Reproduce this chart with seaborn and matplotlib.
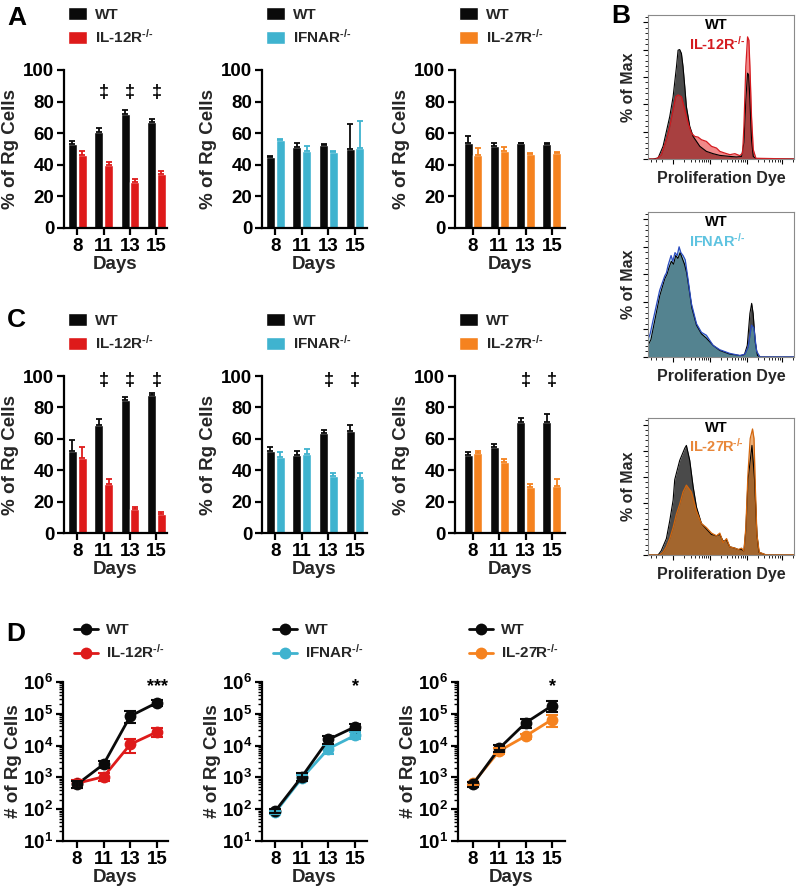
import numpy as np
import pandas as pd
import seaborn as sns
import matplotlib.pyplot as plt
from matplotlib.lines import Line2D
from matplotlib.ticker import LogLocator, NullFormatter, FixedLocator

# ---- data ----
days = ['8', '11', '13', '15']

# panel A: % of Rg cells (mean, sem)
a_il12_wt = [53, 61, 72, 67]
a_il12_wt_err = [2, 2, 2.5, 2]
a_il12_ko = [46.5, 40, 29, 34]
a_il12_ko_err = [2, 2, 2, 2]
a_ifnar_wt = [45, 51, 52.5, 50]
a_ifnar_wt_err = [0.5, 3, 0.5, 16]
a_ifnar_ko = [56, 49, 48, 50.5]
a_ifnar_ko_err = [0.5, 3, 0.5, 17]
a_il27_wt = [54, 52, 53.5, 53]
a_il27_wt_err = [4, 2, 0.3, 0.5]
a_il27_ko = [46, 48.5, 47, 47.5]
a_il27_ko_err = [4.5, 2.5, 0.3, 0.5]

# panel C
c_il12_wt = [52, 69, 85, 88]
c_il12_wt_err = [7, 3.5, 1.5, 1]
c_il12_ko = [48, 31, 15, 12]
c_il12_ko_err = [7, 3.5, 1.8, 1.2]
c_ifnar_wt = [52, 50, 64, 65]
c_ifnar_wt_err = [3, 2.5, 1.5, 3.5]
c_ifnar_ko = [48.5, 50.5, 36.5, 35]
c_ifnar_ko_err = [3, 3, 1.5, 3.5]
c_il27_wt = [50, 55, 71, 70.5]
c_il27_wt_err = [1.3, 1.8, 2, 5]
c_il27_ko = [51, 45.5, 29.5, 30]
c_il27_ko_err = [1.2, 1.7, 2, 4.5]

# panel D: # of Rg cells
d_il12_wt = [600, 2600, 85000, 225000]
d_il12_wt_err = [150, 600, 35000, 50000]
d_il12_ko = [650, 1050, 11000, 27000]
d_il12_ko_err = [200, 300, 5000, 8000]
d_ifnar_wt = [88, 1050, 15600, 39000]
d_ifnar_wt_err = [10, 300, 4000, 8000]
d_ifnar_ko = [80, 950, 8000, 21000]
d_ifnar_ko_err = [10, 200, 2500, 5000]
d_il27_wt = [600, 8200, 52000, 180000]
d_il27_wt_err = [100, 2000, 15000, 70000]
d_il27_ko = [650, 6800, 20000, 66000]
d_il27_ko_err = [80, 1500, 4000, 28000]

# panel B: histogram outlines (dye position %, % of max)
b1_wt_x = [0, 3.4, 6.9, 10.3, 14.9, 17.2, 19.5, 20.6, 21.7, 22.9, 24.0, 25.2, 26.3, 28.6, 30.9,
           35.5, 40.0, 44.6, 49.2, 56.1, 60.6, 64.1, 65.7, 67.0, 68.2, 68.9, 69.8, 70.9, 72.1, 74.4, 100]
b1_wt_y = [0, 0, 0.7, 8.8, 29.5, 43.3, 64.1, 75.6, 76.0, 73.3, 64.1, 50.2, 36.4, 22.6, 15.7,
           8.8, 5.3, 3.7, 2.5, 1.8, 1.4, 1.8, 11.3, 41.2, 59.6, 58.5, 41.2, 13.4, 1.8, 0, 0]
b1_ko_x = [0, 5.7, 9.2, 12.6, 14.9, 17.2, 19.0, 20.6, 22.9, 25.2, 27.5, 29.7, 32.0, 34.3, 36.6, 40.0,
           43.5, 46.9, 49.2, 52.6, 56.1, 59.5, 62.9, 64.8, 65.7, 67.0, 68.2, 69.1, 69.8, 70.9, 72.1, 73.9, 100]
b1_ko_y = [0, 0, 3.0, 13.4, 22.6, 34.1, 43.3, 44.5, 43.3, 34.1, 24.9, 18.0, 15.7, 15.2, 13.4, 12.2,
           8.8, 7.6, 5.3, 4.1, 3.0, 3.7, 2.3, 4.1, 22.6, 64.1, 84.8, 82.5, 64.1, 29.5, 6.5, 0.5, 0]

b2_wt_x = [0, 2, 4, 8, 11.5, 13, 14.5, 16, 17.5, 19, 20.5, 22, 23.5, 25, 26.5, 28, 30, 33.2, 36.6,
           40, 44.6, 49.2, 56, 63, 66, 68, 69.8, 71, 72, 73.5, 75, 77, 100]
b2_wt_y = [8, 12, 22, 42, 54, 57, 62, 66, 64, 70, 68, 72, 68, 64, 58, 48, 34, 22, 16,
           13, 8, 4.5, 2, 1, 1.5, 8, 30, 37, 30, 10, 1, 0, 0]
b2_ko_x = [0, 1.5, 3.4, 8, 11.5, 12.6, 13.7, 15.8, 17, 18.5, 20, 21.3, 22.5, 24, 25.5, 27.5, 29.7,
           33.2, 36.6, 40, 44.6, 49.2, 56, 63, 66.4, 68.6, 70.9, 72.5, 74.4, 76.7, 100]
b2_ko_y = [12, 16, 25, 46, 56, 58, 63, 70, 66, 72, 70, 76, 72, 70, 67, 53, 37,
           23, 17, 15, 8, 5, 2.5, 1, 2, 7, 22, 20, 4, 0, 0]

b3_wt_x = [0, 6.9, 9, 12.6, 14.9, 17.2, 18.3, 21.7, 25.2, 26.3, 28.6, 30.9, 33.2, 36.6, 40, 43.5,
           46.9, 49.2, 51.5, 53.8, 56, 59.5, 61.8, 64.1, 65.7, 67, 68.5, 71.2, 73, 74.6, 76, 81, 100]
b3_wt_y = [0, 0, 3, 12, 25, 40, 55, 69, 78, 80, 69, 50, 35, 23, 19, 15,
           14, 15, 10, 11, 6, 5, 4, 4, 3, 18, 55, 80, 55, 15, 2, 0, 0]
b3_ko_x = [0, 8, 10.3, 12.6, 14.9, 17.2, 19.5, 21.7, 24, 26.3, 29.7, 33.2, 36.6, 40, 43.5, 46.9,
           49.2, 51.5, 53.8, 56, 59.5, 61.8, 64.1, 65.7, 67, 68.5, 70, 71.6, 72.6, 73.5, 74.6, 76.2, 81, 100]
b3_ko_y = [0, 0, 2, 6, 12, 20, 30, 37, 46, 51, 46, 32, 23, 20, 16, 14,
           16, 9, 12, 6, 5, 4, 5, 3, 20, 60, 85, 92, 85, 50, 15, 2, 0, 0]

# ---- style ----
sns.set_theme(style='ticks')
plt.rcParams['font.family'] = ['Liberation Sans', 'DejaVu Sans']
plt.rcParams['font.weight'] = 'bold'
plt.rcParams['mathtext.fontset'] = 'custom'
plt.rcParams['mathtext.rm'] = 'Liberation Sans:bold'
plt.rcParams['mathtext.it'] = 'Liberation Sans:bold'
plt.rcParams['mathtext.bf'] = 'Liberation Sans:bold'
plt.rcParams['axes.linewidth'] = 1.6
plt.rcParams['axes.edgecolor'] = 'black'

W, H = 800, 891
fig = plt.figure(figsize=(8, 8.91), dpi=100)


def rect(l, t, r, b):
    return [l / W, 1 - b / H, (r - l) / W, (b - t) / H]


BLACK = '#0a0a0a'
RED = '#de1a1a'
CYAN = '#3fb3cf'
ORANGE = '#f5821f'
KO12 = 'IL-12R$^{\\text{-/-}}$'
KOIF = 'IFNAR$^{\\text{-/-}}$'
KO27 = 'IL-27R$^{\\text{-/-}}$'


def style_axis(ax, xlim):
    sns.despine(ax=ax)
    ax.set_xlim(*xlim)
    ax.tick_params(axis='both', which='major', length=5, width=1.6, labelsize=13.5,
                   direction='out', pad=2, color='black', labelcolor='black')
    for lab in ax.get_xticklabels() + ax.get_yticklabels():
        lab.set_fontweight('bold')
    ax.set_xlabel('Days', fontsize=13.5, fontweight='bold', labelpad=1)


def bar_panel(box, xlim, wt, wt_err, ko, ko_err, ko_label, color, marks, mark_y):
    ax = fig.add_axes(rect(*box))
    df = pd.DataFrame({'day': days * 2, 'pct': wt + ko,
                       'geno': ['WT'] * 4 + [ko_label] * 4})
    sns.barplot(data=df, x='day', y='pct', hue='geno', order=days,
                hue_order=['WT', ko_label], palette=[BLACK, color], saturation=1,
                errorbar=None, width=0.74, gap=0.08, legend=False, ax=ax)
    bars = list(ax.containers)
    for cont, err, c in zip(bars, [wt_err, ko_err], [BLACK, color]):
        xs = [p.get_x() + p.get_width() / 2 for p in cont]
        hs = [p.get_height() for p in cont]
        ax.errorbar(xs, hs, yerr=[np.zeros(len(err)), err], fmt='none', ecolor=c,
                    elinewidth=1.3, capsize=2.5, capthick=1.3)
    for i in marks:
        ax.text(i, mark_y, '\u2021', ha='center', va='center', fontsize=13,
                fontweight='bold', color='black')
    ax.set_ylim(0, 100)
    ax.set_yticks([0, 20, 40, 60, 80, 100])
    style_axis(ax, xlim)
    ax.set_ylabel('% of Rg Cells', fontsize=13.5, fontweight='bold', labelpad=3)
    ax.legend(bars, ['WT', ko_label], loc='upper left', bbox_to_anchor=(0.04, 1.40),
              frameon=False, fontsize=11, handlelength=1.25, handleheight=0.95,
              handletextpad=0.5, labelspacing=0.4, borderpad=0, borderaxespad=0)
    return ax


def line_panel(box, xlim, wt, wt_err, ko, ko_err, ko_label, color, star):
    ax = fig.add_axes(rect(*box))
    df = pd.DataFrame({'pos': list(range(4)) * 2, 'cells': ko + wt,
                       'geno': [ko_label] * 4 + ['WT'] * 4})
    sns.lineplot(data=df, x='pos', y='cells', hue='geno', hue_order=[ko_label, 'WT'],
                 palette=[color, BLACK], marker='o', markersize=8.5, markeredgewidth=0,
                 linewidth=2, legend=False, ax=ax)
    for vals, err, c in [(ko, ko_err, color), (wt, wt_err, BLACK)]:
        ax.errorbar(range(4), vals, yerr=err, fmt='none', ecolor=c, elinewidth=1.5,
                    capsize=4, capthick=1.5)
    ax.set_yscale('log')
    ax.set_ylim(10, 1e6)
    ax.yaxis.set_major_locator(LogLocator(base=10, numticks=10))
    ax.yaxis.set_minor_locator(LogLocator(base=10, subs=np.arange(2, 10), numticks=20))
    ax.yaxis.set_minor_formatter(NullFormatter())
    ax.tick_params(axis='y', which='minor', length=3, width=1.0, color='black')
    ax.set_xticks(range(4))
    ax.set_xticklabels(days)
    ax.text(3, 10 ** 5.85, star, ha='center', va='center', fontsize=13,
            fontweight='bold', color='black')
    style_axis(ax, xlim)
    ax.set_ylabel('# of Rg Cells', fontsize=13.5, fontweight='bold', labelpad=1)
    handles = [Line2D([0], [0], color=BLACK, lw=2, marker='o', ms=8.5, mew=0),
               Line2D([0], [0], color=color, lw=2, marker='o', ms=8.5, mew=0)]
    ax.legend(handles, ['WT', ko_label], loc='upper left', bbox_to_anchor=(0.1, 1.37),
              frameon=False, fontsize=11, handlelength=1.6, handletextpad=0.5,
              labelspacing=0.4, borderpad=0, borderaxespad=0)
    return ax


def hist_panel(box, wx, wy, kx, ky, ko_label, fill, edge, text_color, alpha):
    ax = fig.add_axes(rect(*box))
    ax.fill_between(wx, wy, color='#4a4a4a', lw=0)
    sns.lineplot(x=wx, y=wy, color='black', lw=0.8, sort=False, ax=ax)
    ax.fill_between(kx, ky, color=fill, alpha=alpha, lw=0)
    sns.lineplot(x=kx, y=ky, color=edge, lw=0.9, sort=False, ax=ax)
    ax.set_xlim(0, 100)
    ax.set_ylim(0, 100)
    for s in ax.spines.values():
        s.set_linewidth(0.8)
        s.set_color('#8a8a8a')
    decades = [17.2, 42.3, 67.5, 91.5]
    minor = [d + np.log10(k) * 25.1 for d in decades for k in range(2, 10)
             if d + np.log10(k) * 25.1 < 100]
    minor += [17.2 - np.log10(k) * 25.1 for k in range(2, 10)]
    ax.xaxis.set_major_locator(FixedLocator(decades))
    ax.xaxis.set_minor_locator(FixedLocator(minor))
    ax.yaxis.set_major_locator(FixedLocator(np.arange(0, 101, 19)))
    ax.yaxis.set_minor_locator(FixedLocator(np.arange(0, 100, 19 / 5)))
    ax.tick_params(which='major', length=3.5, width=0.8, color='black', direction='out',
                   labelbottom=False, labelleft=False)
    ax.tick_params(which='minor', length=2, width=0.6, color='black', direction='out')
    ax.set_xlabel('Proliferation Dye', fontsize=11.5, fontweight='bold', labelpad=3)
    ax.set_ylabel('% of Max', fontsize=11.5, fontweight='bold', labelpad=3)
    ax.text(0.47, 0.93, 'WT', transform=ax.transAxes, ha='center', va='center',
            fontsize=10.5, fontweight='bold', color='black')
    ax.text(0.47, 0.80, ko_label, transform=ax.transAxes, ha='center', va='center',
            fontsize=10.5, fontweight='bold', color=text_color)
    return ax


col1, col2, col3 = (64, 167), (262, 367), (455, 565)
lim1, lim2, lim3 = (-0.5, 3.4), (-0.5, 3.45), (-0.68, 3.5)

# row A
bar_panel((col1[0], 70, col1[1], 228), lim1, a_il12_wt, a_il12_wt_err, a_il12_ko,
          a_il12_ko_err, KO12, RED, [1, 2, 3], 86)
bar_panel((col2[0], 70, col2[1], 228), lim2, a_ifnar_wt, a_ifnar_wt_err, a_ifnar_ko,
          a_ifnar_ko_err, KOIF, CYAN, [], 86)
bar_panel((col3[0], 70, col3[1], 228), lim3, a_il27_wt, a_il27_wt_err, a_il27_ko,
          a_il27_ko_err, KO27, ORANGE, [], 86)

# row C
bar_panel((col1[0], 376, col1[1], 533), lim1, c_il12_wt, c_il12_wt_err, c_il12_ko,
          c_il12_ko_err, KO12, RED, [1, 2, 3], 97)
bar_panel((col2[0], 376, col2[1], 533), lim2, c_ifnar_wt, c_ifnar_wt_err, c_ifnar_ko,
          c_ifnar_ko_err, KOIF, CYAN, [2, 3], 97)
bar_panel((col3[0], 376, col3[1], 533), lim3, c_il27_wt, c_il27_wt_err, c_il27_ko,
          c_il27_ko_err, KO27, ORANGE, [2, 3], 97)

# row D
line_panel((63, 682, 168, 841), (-0.52, 3.41), d_il12_wt, d_il12_wt_err, d_il12_ko,
           d_il12_ko_err, KO12, RED, '***')
line_panel((col2[0], 682, col2[1], 841), lim2, d_ifnar_wt, d_ifnar_wt_err, d_ifnar_ko,
           d_ifnar_ko_err, KOIF, CYAN, '*')
line_panel((458, 682, 565, 841), (-0.56, 3.49), d_il27_wt, d_il27_wt_err, d_il27_ko,
           d_il27_ko_err, KO27, ORANGE, '*')

# panel B histograms
hist_panel((648, 15, 794, 159), b1_wt_x, b1_wt_y, b1_ko_x, b1_ko_y, KO12,
           '#e83a3a', '#d41a1f', '#d41a1f', 0.6)
hist_panel((648, 212, 794, 357), b2_wt_x, b2_wt_y, b2_ko_x, b2_ko_y, KOIF,
           '#5fbcd6', '#2b4cc0', '#5ec3e0', 0.5)
hist_panel((648, 418, 794, 555), b3_wt_x, b3_wt_y, b3_ko_x, b3_ko_y, KO27,
           '#e07a1c', '#d2650c', '#e8873a', 0.6)

# panel letters
for letter, x, y in [('A', 17, 18), ('B', 621, 16), ('C', 16, 320), ('D', 16, 634)]:
    fig.text(x / W, 1 - y / H, letter, ha='center', va='center', fontsize=19,
             fontweight='bold', color='black')

fig.savefig('out.png', dpi=100)
